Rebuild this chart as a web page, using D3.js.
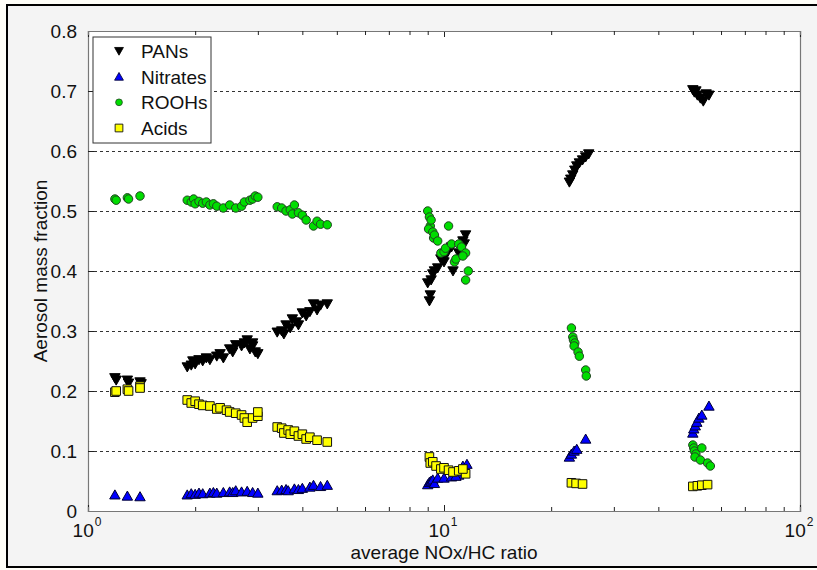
<!DOCTYPE html>
<html>
<head>
<meta charset="utf-8">
<script src="https://cdn.jsdelivr.net/npm/d3@7"></script>
<style>
  html, body { margin: 0; padding: 0; background: #fffef8; }
  svg { display: block; }
  text { font-family: "Liberation Sans", Arial, sans-serif; fill: #111; }
</style>
</head>
<body>
<svg id="chart" width="817" height="570"></svg>
<script>
// ---------------- DATA ----------------
const seriesNames = ["PANs", "Nitrates", "ROOHs", "Acids"];
const yTicks = [0, 0.1, 0.2, 0.3, 0.4, 0.5, 0.6, 0.7, 0.8];
const xTickExponents = [0, 1, 2];

const pansX = [1.19,1.2,1.29,1.3,1.40,1.41,
  1.9,1.95,1.97,2.0,2.05,2.1,2.15,2.2,2.3,2.35,2.4,2.5,2.55,2.6,2.7,2.75,2.8,2.85,2.9,2.95,3.0,2.9,
  3.4,3.5,3.55,3.6,3.7,3.75,3.85,3.9,4.0,4.1,4.2,4.3,4.4,4.5,4.7,
  9.1,9.15,9.0,9.2,9.3,9.4,9.6,9.8,10.0,10.2,10.5,10.6,10.0,11.0,11.3,11.5,11.4,
  22.5,22.7,23.0,23.3,23.6,24.0,24.5,25.0,25.5,
  50.0,50.5,51.0,51.5,52.5,53.5,54.5,55.5];
const pansY = [0.222,0.218,0.218,0.213,0.215,0.212,
  0.24,0.243,0.25,0.245,0.252,0.25,0.255,0.252,0.258,0.262,0.255,0.27,0.265,0.277,0.275,0.28,0.285,0.27,0.28,0.265,0.262,0.275,
  0.298,0.3,0.295,0.31,0.305,0.32,0.315,0.31,0.33,0.325,0.332,0.345,0.335,0.343,0.345,
  0.35,0.36,0.38,0.385,0.395,0.4,0.405,0.42,0.425,0.43,0.44,0.4,0.415,0.43,0.45,0.46,0.445,
  0.548,0.553,0.56,0.568,0.575,0.58,0.585,0.59,0.595,
  0.702,0.698,0.7,0.693,0.688,0.683,0.695,0.693];

const nitratesX = [1.19,1.29,1.40,
  1.9,1.95,2.0,2.05,2.1,2.2,2.25,2.3,2.4,2.5,2.55,2.6,2.7,2.8,2.9,3.0,
  3.4,3.5,3.6,3.65,3.8,3.9,4.0,4.2,4.3,4.5,4.7,
  9.0,9.1,9.2,9.3,9.4,9.6,10.0,10.5,11.0,11.3,11.6,10.8,
  22.5,22.8,23.2,23.6,25.0,
  50.0,50.3,50.8,51.3,52.0,53.0,55.5];
const nitratesY = [0.027,0.025,0.024,
  0.027,0.029,0.028,0.03,0.029,0.03,0.031,0.03,0.031,0.032,0.031,0.034,0.032,0.033,0.031,0.03,
  0.034,0.035,0.036,0.034,0.037,0.036,0.038,0.04,0.043,0.041,0.043,
  0.044,0.048,0.05,0.052,0.046,0.055,0.055,0.057,0.06,0.075,0.078,0.058,
  0.09,0.095,0.1,0.103,0.12,
  0.13,0.137,0.142,0.148,0.155,0.16,0.175];

const roohsX = [1.19,1.2,1.29,1.3,1.40,
  1.9,1.95,1.98,2.0,2.05,2.1,2.15,2.2,2.25,2.3,2.4,2.5,2.6,2.7,2.75,2.85,2.9,2.95,3.0,
  3.4,3.5,3.6,3.7,3.75,3.8,3.9,4.0,4.1,4.3,4.4,4.5,4.7,
  9.0,9.1,9.15,9.05,9.2,9.3,9.35,9.4,9.6,9.8,10.0,10.1,10.3,10.5,10.7,10.8,11.0,11.2,11.5,11.7,11.5,11.3,
  22.8,23.0,23.1,23.3,23.2,23.8,24.0,25.0,25.1,
  50.0,50.3,50.5,51.0,50.7,53.0,52.5,55.0,56.0];
const roohsY = [0.52,0.518,0.522,0.52,0.525,
  0.518,0.515,0.52,0.512,0.516,0.513,0.515,0.51,0.512,0.508,0.505,0.51,0.505,0.508,0.515,0.518,0.52,0.525,0.523,
  0.507,0.505,0.5,0.502,0.495,0.51,0.497,0.493,0.485,0.475,0.483,0.478,0.477,
  0.5,0.49,0.475,0.47,0.485,0.465,0.455,0.46,0.45,0.43,0.432,0.438,0.475,0.445,0.415,0.42,0.445,0.44,0.43,0.4,0.385,0.425,
  0.305,0.29,0.285,0.28,0.275,0.265,0.258,0.235,0.225,
  0.11,0.105,0.1,0.095,0.09,0.105,0.085,0.08,0.075];

const acidsX = [1.19,1.2,1.29,1.3,1.40,1.4,
  1.9,1.95,2.0,2.05,2.1,2.2,2.3,2.35,2.45,2.5,2.6,2.7,2.75,2.8,2.9,3.0,3.0,
  3.4,3.5,3.55,3.65,3.7,3.8,3.9,4.0,4.1,4.2,4.4,4.7,
  9.1,9.15,9.3,9.5,9.8,10.0,10.3,10.6,11.0,11.5,11.3,
  22.8,23.5,24.5,
  50.0,51.5,53.0,55.0];
const acidsY = [0.198,0.2,0.203,0.2,0.208,0.205,
  0.185,0.18,0.183,0.178,0.176,0.175,0.17,0.172,0.168,0.165,0.163,0.16,0.155,0.148,0.155,0.158,0.165,
  0.14,0.138,0.13,0.135,0.128,0.133,0.125,0.128,0.12,0.123,0.118,0.115,
  0.09,0.08,0.082,0.075,0.07,0.072,0.068,0.065,0.067,0.062,0.07,
  0.047,0.046,0.045,
  0.041,0.042,0.043,0.044];

// ---------------- LAYOUT ----------------
const svg = d3.select("#chart");
const W = 817, H = 570;
const plot = { left: 88, top: 31, right: 800, bottom: 511 };

// figure background + border
svg.append("rect").attr("x", 7).attr("y", 5).attr("width", W).attr("height", 562)
  .attr("fill", "#f4f4f4").attr("stroke", "#000").attr("stroke-width", 2);

const x = d3.scaleLog().domain([1, 100]).range([plot.left, plot.right]);
const y = d3.scaleLinear().domain([0, 0.8]).range([plot.bottom, plot.top]);

// plot area
svg.append("rect").attr("x", plot.left).attr("y", plot.top)
  .attr("width", plot.right - plot.left).attr("height", plot.bottom - plot.top)
  .attr("fill", "#fff");

// grid lines (dashed)
svg.append("g").selectAll("line").data(yTicks.filter(t => t > 0 && t < 0.8)).join("line")
  .attr("x1", plot.left).attr("x2", plot.right)
  .attr("y1", d => y(d)).attr("y2", d => y(d))
  .attr("stroke", "#333").attr("stroke-width", 1).attr("stroke-dasharray", "3,3")
  .attr("shape-rendering", "crispEdges");

// axes with inward ticks
const fs = 19;
const axL = svg.append("g").attr("transform", `translate(${plot.left},0)`)
  .call(d3.axisLeft(y).tickValues(yTicks).tickSize(-6).tickPadding(11).tickFormat(d3.format("")));
const axR = svg.append("g").attr("transform", `translate(${plot.right},0)`)
  .call(d3.axisRight(y).tickValues(yTicks).tickSize(-6).tickFormat(""));

const minorX = [];
for (let dec = 1; dec <= 10; dec *= 10) for (let k = 2; k <= 9; k++) minorX.push(dec * k);
const majorX = xTickExponents.map(e => Math.pow(10, e));

const axB = svg.append("g").attr("transform", `translate(0,${plot.bottom})`)
  .call(d3.axisBottom(x).tickValues(majorX).tickSize(-6).tickFormat(""));
const axBm = svg.append("g").attr("transform", `translate(0,${plot.bottom})`)
  .call(d3.axisBottom(x).tickValues(minorX).tickSize(-4).tickFormat(""));
const axT = svg.append("g").attr("transform", `translate(0,${plot.top})`)
  .call(d3.axisTop(x).tickValues(majorX).tickSize(-6).tickFormat(""));
const axTm = svg.append("g").attr("transform", `translate(0,${plot.top})`)
  .call(d3.axisTop(x).tickValues(minorX).tickSize(-4).tickFormat(""));

[axL, axR, axB, axBm, axT, axTm].forEach(g => {
  g.select(".domain").attr("stroke", "#777").attr("stroke-width", 1.2);
  g.selectAll(".tick line").attr("stroke", "#222");
  g.selectAll("text").attr("font-size", fs).attr("font-family", "Liberation Sans, Arial, sans-serif").attr("fill", "#111");
});

// x tick labels 10^n
const xl = svg.append("g").selectAll("text").data(xTickExponents).join("text")
  .attr("x", d => x(Math.pow(10, d)) - 1).attr("y", 537)
  .attr("text-anchor", "middle").attr("font-size", fs);
xl.append("tspan").text("10");
xl.append("tspan").attr("dy", -11).attr("dx", 1).attr("font-size", 12).text(d => d);

// axis titles
svg.append("text").attr("x", (plot.left + plot.right) / 2).attr("y", 559)
  .attr("text-anchor", "middle").attr("font-size", fs).text("average NOx/HC ratio");
svg.append("text").attr("transform", `translate(47,${(plot.top + plot.bottom) / 2}) rotate(-90)`)
  .attr("text-anchor", "middle").attr("font-size", fs).text("Aerosol mass fraction");

// ---------------- MARKERS ----------------
const styles = {
  PANs: { sym: "down", fill: "#000", stroke: "#000" },
  Nitrates: { sym: "up", fill: "#0000ff", stroke: "#000033" },
  ROOHs: { sym: "circle", fill: "#00dd00", stroke: "#224422" },
  Acids: { sym: "square", fill: "#ffff00", stroke: "#111" }
};
function markerPath(sym) {
  const s = 5.2;
  if (sym === "down") return `M${-s},${-s * 0.8}L${s},${-s * 0.8}L0,${s * 0.95}Z`;
  if (sym === "up") return `M${-s},${s * 0.8}L${s},${s * 0.8}L0,${-s * 0.95}Z`;
  if (sym === "square") return `M-4.3,-4.3H4.3V4.3H-4.3Z`;
  return d3.symbol(d3.symbolCircle, 56)();
}
const seriesData = {
  PANs: pansX.map((v, i) => [v, pansY[i]]),
  Nitrates: nitratesX.map((v, i) => [v, nitratesY[i]]),
  ROOHs: roohsX.map((v, i) => [v, roohsY[i]]),
  Acids: acidsX.map((v, i) => [v, acidsY[i]])
};
seriesNames.forEach(name => {
  const st = styles[name];
  svg.append("g").selectAll("path").data(seriesData[name]).join("path")
    .attr("transform", d => `translate(${x(d[0])},${y(d[1])})`)
    .attr("d", markerPath(st.sym))
    .attr("fill", st.fill).attr("stroke", st.stroke).attr("stroke-width", 1);
});

// ---------------- LEGEND ----------------
const lg = svg.append("g");
lg.append("rect").attr("x", 93).attr("y", 37).attr("width", 118).attr("height", 106)
  .attr("fill", "#fff").attr("stroke", "#333").attr("stroke-width", 1);
const legY = d3.scalePoint().domain(seriesNames).range([51, 128]);
seriesNames.forEach(name => {
  const st = styles[name];
  const scale = name === "Acids" ? 0.9 : (name === "ROOHs" ? 0.8 : 0.85);
  lg.append("path").attr("transform", `translate(119,${legY(name)}) scale(${scale})`)
    .attr("d", markerPath(st.sym)).attr("fill", st.fill).attr("stroke", st.stroke).attr("stroke-width", 1);
  lg.append("text").attr("x", 141).attr("y", legY(name)).attr("dy", "0.36em")
    .attr("font-size", fs).text(name);
});
</script>
</body>
</html>
